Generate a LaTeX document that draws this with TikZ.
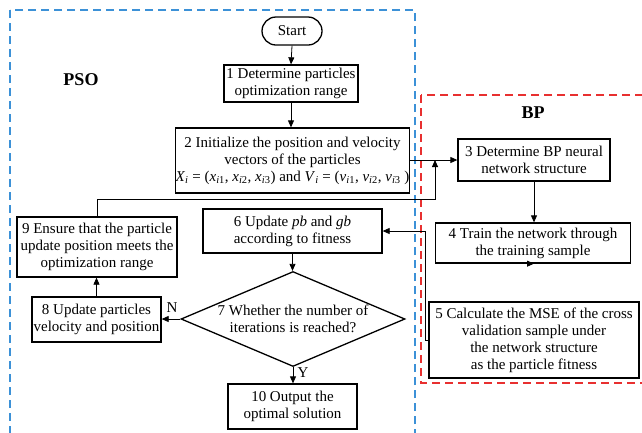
\documentclass[tikz,border=0pt]{standalone}
\usepackage{fontspec}
\setmainfont{Liberation Serif}
\usetikzlibrary{shapes.geometric,arrows.meta}
\definecolor{psoblue}{RGB}{60,145,215}
\definecolor{bpred}{RGB}{232,48,48}
\begin{document}
\begin{tikzpicture}[x=1pt,y=-1pt,
  box/.style={draw,line width=1.3pt,align=center,inner sep=0pt,
    font=\fontsize{15}{17}\selectfont},
  conn/.style={line width=0.8pt,-{Triangle[length=7pt,width=6pt]}},
  lbl/.style={font=\fontsize{15}{17}\selectfont,inner sep=0pt},
  title/.style={font=\fontsize{18}{20}\selectfont\bfseries,inner sep=0pt},
  frame/.style={line width=1.5pt,dash pattern=on 8pt off 5pt}]
\useasboundingbox (0,0) rectangle (642,432);
\clip (0,0) rectangle (642,432);
\fill[white] (0,0) rectangle (642,432);
\draw[frame,psoblue] (10,10) rectangle (415,450);
\draw[frame,bpred] (421,95) rectangle (660,383);

\node[title] (pso) at (81,80) {PSO};
\node[title] (bp) at (533,113) {BP};

\node[box,rounded corners=14pt,minimum width=60pt,minimum height=28pt] (start) at (292,31) {Start};
\node[box,minimum width=134pt,minimum height=37pt] (b1) at (291,83.5) {1 Determine particles\\optimization range};
\node[box,minimum width=219pt,minimum height=65pt] (b2) at (292.5,160.5) {2 Initialize the position and velocity\\vectors of the particles\\\textit{X}\textsubscript{\textit{i}} = (\textit{x}\textsubscript{\textit{i}1}, \textit{x}\textsubscript{\textit{i}2}, \textit{x}\textsubscript{\textit{i}3}) and \textit{V}\textsubscript{\textit{i}} = (\textit{v}\textsubscript{\textit{i}1}, \textit{v}\textsubscript{\textit{i}2}, \textit{v}\textsubscript{\textit{i}3} )};
\node[box,minimum width=152pt,minimum height=42pt] (b3) at (534,160) {3 Determine BP neural\\network structure};
\node[box,minimum width=195pt,minimum height=40pt] (b4) at (533,243) {4 Train the network through\\the training sample};
\node[box,minimum width=210pt,minimum height=76pt] (b5) at (534,340) {5 Calculate the MSE of the cross\\validation sample under\\the network structure\\as the particle fitness};
\node[box,minimum width=179pt,minimum height=44pt] (b6) at (292.5,231) {6 Update \textit{pb} and \textit{gb}\\according to fitness};
\node[box,shape=diamond,aspect=2.36,minimum width=224pt,minimum height=95pt] (d7) at (293,319) {7 Whether the number of\\iterations is reached?};
\node[box,minimum width=129pt,minimum height=45pt] (b8) at (96.5,319.5) {8 Update particles\\velocity and position};
\node[box,minimum width=160pt,minimum height=60pt] (b9) at (97,247) {9 Ensure that the particle\\update position meets the\\optimization range};
\node[box,minimum width=129pt,minimum height=45pt] (b10) at (292.5,406.5) {10 Output the\\optimal solution};

\coordinate (k) at (435,199);
\coordinate (j) at (435,160);
\coordinate (m) at (425,340);

\draw[conn] (start.south) -- (b1.north);
\draw[conn] (b1.south) -- (b1.south |- b2.north);
\draw[conn] (b2.east |- j) -- (b3.west |- j);
\draw[conn] (b9.north) |- (k) -- (j);
\draw[conn] (b3.south) -- (b3.south |- b4.north);
\draw[conn] (b4.south) -- (b4.south -| b5.north);
\draw[conn] (b5.west) -- (m) |- (b6.east);
\draw[conn] (b6.south) -- (b6.south |- d7.north);
\draw[conn] (d7.west) -- (b8.east |- d7.west);
\draw[conn] (d7.south) -- (d7.south |- b10.north);
\draw[conn] (b8.north) -- (b8.north |- b9.south);

\node[lbl] (n) at (172,308) {N};
\node[lbl] (y) at (303,373) {Y};
\end{tikzpicture}
\end{document}
